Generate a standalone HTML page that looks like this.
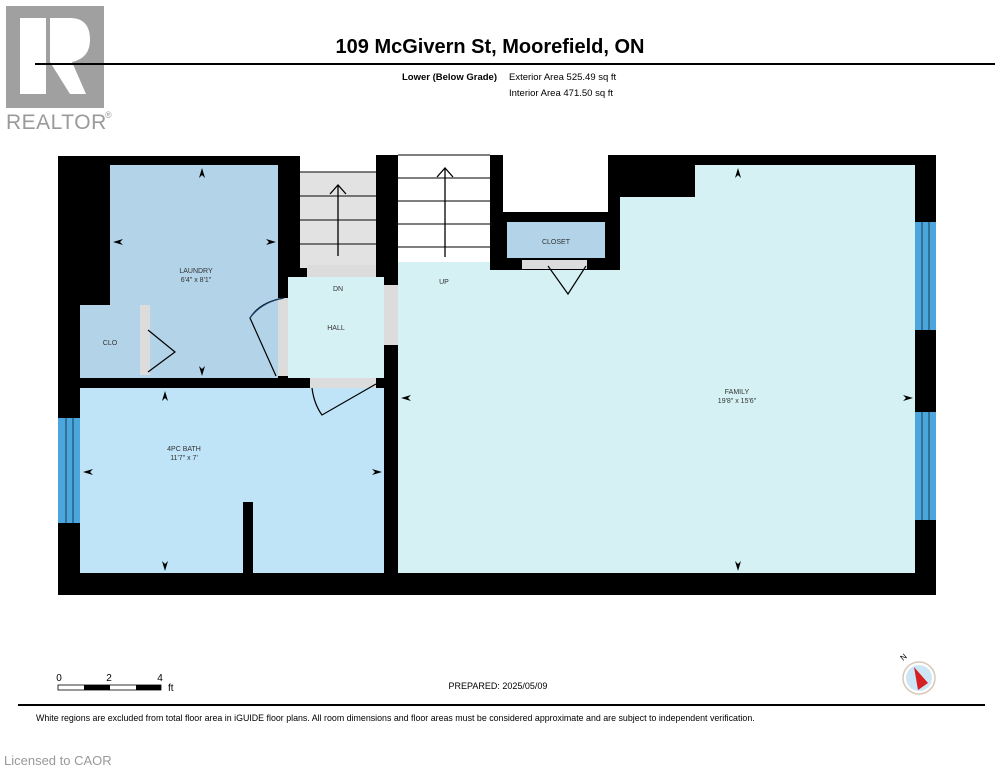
<!DOCTYPE html>
<html><head><meta charset="utf-8"><style>
html,body{margin:0;padding:0;background:#fff;width:995px;height:768px;overflow:hidden}
svg{display:block}
text{font-family:"Liberation Sans",Arial,sans-serif}
</style></head><body>
<svg width="995" height="768" viewBox="0 0 995 768" xmlns="http://www.w3.org/2000/svg">
<!-- Logo -->
<rect x="6" y="6" width="98" height="102" fill="#a0a0a0"/>
<rect x="20" y="18" width="26" height="76" fill="#fff"/>
<path d="M50 18 H70 Q90 18 90 40 Q90 58 72 62 L86 94 H70 L50 62 Z" fill="#fff"/>
<text x="6" y="129" font-size="21" fill="#9a9a9a" letter-spacing="0.5">REALTOR</text>
<text x="105" y="118" font-size="9" fill="#9a9a9a">®</text>
<!-- Header -->
<line x1="35" y1="64" x2="995" y2="64" stroke="#000" stroke-width="2"/>
<text x="490" y="53" font-size="20" font-weight="bold" text-anchor="middle">109 McGivern St, Moorefield, ON</text>
<text x="497" y="80" font-size="9.5" font-weight="bold" text-anchor="end">Lower (Below Grade)</text>
<text x="509" y="80" font-size="9.5">Exterior Area 525.49 sq ft</text>
<text x="509" y="96" font-size="9.5">Interior Area 471.50 sq ft</text>

<!-- Floor plan: base black -->
<rect x="58" y="156" width="242" height="439" fill="#000"/>
<rect x="290" y="265" width="110" height="330" fill="#000"/>
<rect x="376" y="155" width="22" height="440" fill="#000"/>
<rect x="398" y="262" width="538" height="333" fill="#000"/>
<rect x="490" y="155" width="446" height="115" fill="#000"/>
<rect x="503" y="155" width="105" height="57" fill="#fff"/>
<!-- stairs 1 (gray) -->
<rect x="300" y="172" width="76" height="96" fill="#e2e2e2"/>
<g stroke="#333" stroke-width="1.3">
<line x1="300" y1="172" x2="376" y2="172"/><line x1="300" y1="196" x2="376" y2="196"/>
<line x1="300" y1="220" x2="376" y2="220"/><line x1="300" y1="244" x2="376" y2="244"/>
</g>
<line x1="338" y1="256" x2="338" y2="185" stroke="#000" stroke-width="1.3"/>
<polyline points="330,194 338,185 346,194" fill="none" stroke="#000" stroke-width="1.3"/>
<!-- stairs 2 (white) -->
<rect x="398" y="155" width="92" height="107" fill="#fff"/>
<g stroke="#333" stroke-width="1.3">
<line x1="398" y1="155" x2="490" y2="155"/><line x1="398" y1="178" x2="490" y2="178"/>
<line x1="398" y1="201" x2="490" y2="201"/><line x1="398" y1="224" x2="490" y2="224"/>
<line x1="398" y1="247" x2="490" y2="247"/>
</g>
<line x1="445" y1="257" x2="445" y2="168" stroke="#000" stroke-width="1.3"/>
<polyline points="437,177 445,168 453,177" fill="none" stroke="#000" stroke-width="1.3"/>
<!-- Family -->
<path d="M398 262 H490 V270 H620 V197 H695 V165 H915 V573 H398 Z" fill="#d6f1f3"/>
<!-- windows right -->
<rect x="915" y="222" width="21" height="108" fill="#4aa6dc"/>
<rect x="915" y="412" width="21" height="108" fill="#4aa6dc"/>
<g stroke="#123" stroke-width="0.8"><line x1="922" y1="222" x2="922" y2="330"/><line x1="929" y1="222" x2="929" y2="330"/><line x1="922" y1="412" x2="922" y2="520"/><line x1="929" y1="412" x2="929" y2="520"/></g>
<!-- Closet -->
<rect x="507" y="222" width="98" height="36" fill="#b3d3e8"/>
<rect x="522" y="260" width="65" height="9" fill="#dcdcdc"/>
<polyline points="548,266 568,294 586,266" fill="none" stroke="#000" stroke-width="1.2"/>
<text x="556" y="244" font-size="7" text-anchor="middle" fill="#333">CLOSET</text>
<!-- Laundry -->
<rect x="110" y="165" width="168" height="213" fill="#b3d3e8"/>
<!-- CLO -->
<rect x="80" y="305" width="60" height="73" fill="#b3d3e8"/>
<rect x="140" y="305" width="10" height="70" fill="#dcdcdc"/>
<polyline points="148,330 175,352 148,372" fill="none" stroke="#000" stroke-width="1.2"/>
<text x="110" y="345" font-size="7" text-anchor="middle" fill="#333">CLO</text>
<!-- Hall -->
<rect x="307" y="265" width="69" height="12" fill="#dcdcdc"/>
<rect x="288" y="277" width="96" height="101" fill="#d6f1f3"/>
<rect x="278" y="298" width="10" height="78" fill="#dcdcdc"/>
<rect x="384" y="285" width="14" height="60" fill="#dcdcdc"/>
<path d="M284 298 Q260 302 250 318 L276 376" fill="none" stroke="#000" stroke-width="1.2"/>
<path d="M284 298 Q262 302 250 318" fill="none" stroke="#1a4a7a" stroke-width="1"/>
<text x="338" y="291" font-size="7" text-anchor="middle" fill="#333">DN</text>
<text x="336" y="330" font-size="7" text-anchor="middle" fill="#333">HALL</text>
<text x="444" y="284" font-size="7" text-anchor="middle" fill="#333">UP</text>
<!-- Bath -->
<rect x="80" y="388" width="304" height="185" fill="#bfe4f8"/>
<rect x="310" y="378" width="66" height="10" fill="#dcdcdc"/>
<rect x="243" y="502" width="10" height="71" fill="#000"/>
<path d="M312 388 Q314 404 322 415 L376 384" fill="none" stroke="#000" stroke-width="1.2"/>
<rect x="58" y="418" width="22" height="105" fill="#4aa6dc"/>
<g stroke="#123" stroke-width="0.8"><line x1="66" y1="418" x2="66" y2="523"/><line x1="73" y1="418" x2="73" y2="523"/></g>
<!-- labels -->
<text x="196" y="273" font-size="7" text-anchor="middle" fill="#333">LAUNDRY</text>
<text x="196" y="282" font-size="7" text-anchor="middle" fill="#333">6'4" x 8'1"</text>
<text x="184" y="451" font-size="7" text-anchor="middle" fill="#333">4PC BATH</text>
<text x="184" y="460" font-size="7" text-anchor="middle" fill="#333">11'7" x 7'</text>
<text x="737" y="394" font-size="7" text-anchor="middle" fill="#333">FAMILY</text>
<text x="737" y="403" font-size="7" text-anchor="middle" fill="#333">19'8" x 15'6"</text>
<!-- dimension arrowheads -->
<g fill="#000">
<path d="M202 168 l-3 10 l3 -3 l3 3z"/><path d="M202 376 l-3 -10 l3 3 l3 -3z"/>
<path d="M113 242 l10 -3 l-3 3 l3 3z"/><path d="M276 242 l-10 -3 l3 3 l-3 3z"/>
<path d="M165 391 l-3 10 l3 -3 l3 3z"/><path d="M165 571 l-3 -10 l3 3 l3 -3z"/>
<path d="M83 472 l10 -3 l-3 3 l3 3z"/><path d="M382 472 l-10 -3 l3 3 l-3 3z"/>
<path d="M738 168 l-3 10 l3 -3 l3 3z"/><path d="M738 571 l-3 -10 l3 3 l3 -3z"/>
<path d="M401 398 l10 -3 l-3 3 l3 3z"/><path d="M913 398 l-10 -3 l3 3 l-3 3z"/>
</g>

<!-- Footer -->
<text x="59" y="681" font-size="10" text-anchor="middle">0</text>
<text x="109" y="681" font-size="10" text-anchor="middle">2</text>
<text x="160" y="681" font-size="10" text-anchor="middle">4</text>
<rect x="58" y="685" width="103" height="5" fill="#fff" stroke="#000" stroke-width="0.8"/>
<rect x="84" y="685" width="26" height="5" fill="#000"/>
<rect x="136" y="685" width="25" height="5" fill="#000"/>
<text x="168" y="691" font-size="10">ft</text>
<text x="498" y="689" font-size="9" text-anchor="middle">PREPARED: 2025/05/09</text>
<circle cx="919" cy="678" r="16" fill="#fff" stroke="#d8c8b8" stroke-width="1.5"/>
<circle cx="919" cy="678" r="13" fill="#cde6f6"/>
<path d="M914 667 L928 683 L918 690 Z" fill="#d42020"/>
<text x="903" y="661" font-size="8" transform="rotate(-40 903 661)">N</text>
<line x1="18" y1="705" x2="985" y2="705" stroke="#000" stroke-width="2"/>
<text x="36" y="721" font-size="8.85">White regions are excluded from total floor area in iGUIDE floor plans. All room dimensions and floor areas must be considered approximate and are subject to independent verification.</text>
<text x="4" y="765" font-size="13" fill="#999">Licensed to CAOR</text>
</svg>
</body></html>
